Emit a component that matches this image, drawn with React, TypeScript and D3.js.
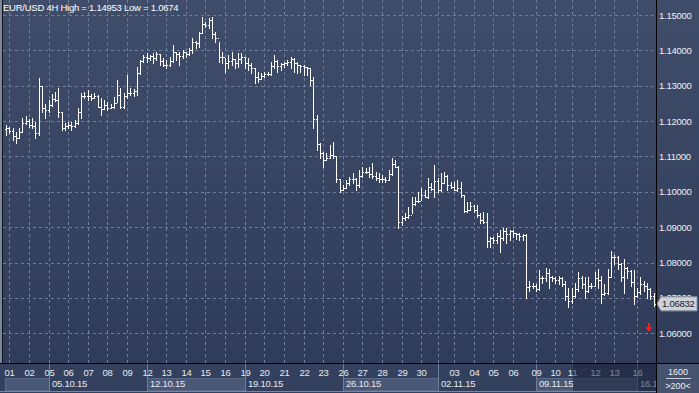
import React from 'react';
import * as d3 from 'd3';

const opens = [1.1178,1.1180,1.1172,1.1158,1.1152,1.1170,1.1195,1.1200,1.1190,1.1185,1.1165,1.1300,1.1238,1.1230,1.1245,1.1262,1.1260,1.1225,1.1180,1.1185,1.1190,1.1185,1.1195,1.1225,1.1272,1.1272,1.1270,1.1265,1.1270,1.1240,1.1235,1.1245,1.1238,1.1240,1.1250,1.1275,1.1240,1.1270,1.1280,1.1280,1.1285,1.1335,1.1370,1.1382,1.1378,1.1385,1.1378,1.1390,1.1370,1.1360,1.1358,1.1370,1.1395,1.1390,1.1385,1.1395,1.1390,1.1402,1.1425,1.1420,1.1450,1.1475,1.1472,1.1485,1.1445,1.1435,1.1380,1.1380,1.1365,1.1370,1.1375,1.1365,1.1375,1.1380,1.1365,1.1360,1.1350,1.1325,1.1320,1.1328,1.1333,1.1332,1.1355,1.1370,1.1355,1.1362,1.1365,1.1368,1.1375,1.1365,1.1360,1.1355,1.1352,1.1350,1.1315,1.1205,1.1135,1.1110,1.1090,1.1095,1.1105,1.1100,1.1035,1.1005,1.1010,1.1025,1.1035,1.1035,1.1018,1.1045,1.1055,1.1055,1.1050,1.1045,1.1040,1.1035,1.1035,1.1033,1.1050,1.1080,1.1070,1.0915,1.0925,1.0930,1.0935,1.0965,1.0975,1.0975,1.0990,1.0985,1.1015,1.1008,1.1030,1.1005,1.1025,1.1045,1.1020,1.1015,1.1005,1.1010,1.0990,1.0945,1.0950,1.0960,1.0950,1.0935,1.0920,1.0915,1.0860,1.0870,1.0865,1.0875,1.0870,1.0890,1.0880,1.0888,1.0885,1.0880,1.0875,1.0878,1.0730,1.0735,1.0735,1.0725,1.0755,1.0755,1.0770,1.0760,1.0755,1.0750,1.0755,1.0740,1.0705,1.0690,1.0705,1.0725,1.0755,1.0740,1.0720,1.0735,1.0735,1.0755,1.0752,1.0710,1.0715,1.0760,1.0815,1.0815,1.0795,1.0760,1.0785,1.0775,1.0745,1.0705,1.0718,1.0740,1.0735,1.0725,1.0705];

const highs = [1.1188,1.1183,1.1180,1.1168,1.1180,1.1208,1.1214,1.1205,1.1208,1.1197,1.1322,1.1300,1.1248,1.1259,1.1276,1.1282,1.1293,1.1225,1.1194,1.1197,1.1197,1.1203,1.1237,1.1279,1.1282,1.1288,1.1276,1.1279,1.1273,1.1265,1.1259,1.1254,1.1248,1.1268,1.1316,1.1293,1.1279,1.1330,1.1293,1.1290,1.1353,1.1373,1.1387,1.1392,1.1387,1.1392,1.1395,1.1390,1.1378,1.1373,1.1381,1.1415,1.1395,1.1395,1.1401,1.1395,1.1407,1.1435,1.1427,1.1452,1.1494,1.1480,1.1492,1.14953,1.1452,1.1424,1.1395,1.1378,1.1387,1.1395,1.1377,1.1392,1.1392,1.1382,1.1378,1.1364,1.1350,1.1339,1.1336,1.1339,1.1339,1.1367,1.1387,1.1373,1.1364,1.1367,1.1373,1.1381,1.1378,1.1367,1.1358,1.1358,1.1353,1.1350,1.1324,1.1217,1.1137,1.1112,1.1109,1.1132,1.1140,1.1100,1.1035,1.1018,1.1033,1.1041,1.1052,1.1038,1.1061,1.1069,1.1066,1.1069,1.1081,1.1055,1.1052,1.1047,1.1041,1.1061,1.1095,1.1089,1.1072,1.0933,1.0939,1.0956,1.0985,1.0985,1.0999,1.1010,1.1004,1.1038,1.1024,1.1075,1.1038,1.1052,1.1055,1.1047,1.1027,1.1027,1.1033,1.1027,1.0992,1.0970,1.0970,1.0962,1.0962,1.0939,1.0942,1.0939,1.0871,1.0871,1.0885,1.0891,1.0897,1.0897,1.0891,1.0891,1.0885,1.0885,1.0882,1.0882,1.0749,1.0743,1.0740,1.0778,1.0763,1.0786,1.0783,1.0763,1.0758,1.0763,1.0758,1.0749,1.0729,1.0727,1.0743,1.0772,1.0763,1.0758,1.0758,1.0743,1.0772,1.0783,1.0763,1.0740,1.0783,1.0834,1.0820,1.0818,1.0800,1.0811,1.0788,1.0778,1.0778,1.0729,1.0758,1.0749,1.0743,1.0729,1.0713];

const lows = [1.1160,1.1166,1.1146,1.1137,1.1152,1.1168,1.1191,1.1183,1.1180,1.1152,1.1160,1.1225,1.1208,1.1225,1.1242,1.1256,1.1211,1.1174,1.1174,1.1180,1.1174,1.1183,1.1193,1.1208,1.1265,1.1259,1.1259,1.1265,1.1239,1.1217,1.1233,1.1231,1.1237,1.1238,1.1254,1.1237,1.1238,1.1265,1.1273,1.1270,1.1273,1.1333,1.1367,1.1367,1.1373,1.1364,1.1373,1.1358,1.1356,1.1350,1.1355,1.1367,1.1373,1.1358,1.1378,1.1381,1.1387,1.1392,1.1407,1.1409,1.1448,1.1466,1.1463,1.1435,1.1424,1.1367,1.1364,1.1339,1.1350,1.1358,1.1350,1.1353,1.1364,1.1350,1.1344,1.1336,1.1307,1.1310,1.1318,1.1325,1.1330,1.1330,1.1350,1.1339,1.1344,1.1353,1.1358,1.1350,1.1339,1.1336,1.1339,1.1330,1.1330,1.1302,1.1180,1.1118,1.1095,1.1069,1.1089,1.1095,1.1095,1.1027,1.0999,1.1004,1.1010,1.1018,1.1024,1.1004,1.1015,1.1043,1.1052,1.1041,1.1038,1.1033,1.1027,1.1027,1.1027,1.1033,1.1048,1.1069,1.0897,1.0905,1.0919,1.0925,1.0939,1.0962,1.0970,1.0976,1.0985,1.0982,1.1004,1.0985,1.0999,1.1002,1.1024,1.1004,1.1010,1.1004,1.1003,1.0985,1.0942,1.0943,1.0948,1.0942,1.0928,1.0913,1.0911,1.0843,1.0843,1.0854,1.0854,1.0829,1.0863,1.0854,1.0863,1.0871,1.0868,1.0863,1.0863,1.0701,1.0721,1.0729,1.0721,1.0722,1.0743,1.0749,1.0727,1.0749,1.0743,1.0740,1.0735,1.0693,1.0674,1.0687,1.0702,1.0721,1.0727,1.0701,1.0718,1.0727,1.0735,1.0729,1.0687,1.0708,1.0712,1.0758,1.0797,1.0783,1.0749,1.0715,1.0755,1.0735,1.0684,1.0703,1.0712,1.0721,1.0701,1.0698,1.0678];

const closes = [1.1180,1.1172,1.1158,1.1152,1.1170,1.1195,1.1200,1.1190,1.1185,1.1165,1.1300,1.1238,1.1230,1.1245,1.1262,1.1260,1.1225,1.1180,1.1185,1.1190,1.1185,1.1195,1.1225,1.1272,1.1272,1.1270,1.1265,1.1270,1.1240,1.1235,1.1245,1.1238,1.1240,1.1250,1.1275,1.1240,1.1270,1.1280,1.1280,1.1285,1.1335,1.1370,1.1382,1.1378,1.1385,1.1378,1.1390,1.1370,1.1360,1.1358,1.1370,1.1395,1.1390,1.1385,1.1395,1.1390,1.1402,1.1425,1.1420,1.1450,1.1475,1.1472,1.1485,1.1445,1.1435,1.1380,1.1380,1.1365,1.1370,1.1375,1.1365,1.1375,1.1380,1.1365,1.1360,1.1350,1.1325,1.1320,1.1328,1.1333,1.1332,1.1355,1.1370,1.1355,1.1362,1.1365,1.1368,1.1375,1.1365,1.1360,1.1355,1.1352,1.1350,1.1315,1.1205,1.1135,1.1110,1.1090,1.1095,1.1105,1.1100,1.1035,1.1005,1.1010,1.1025,1.1035,1.1035,1.1018,1.1045,1.1055,1.1055,1.1050,1.1045,1.1040,1.1035,1.1035,1.1033,1.1050,1.1080,1.1070,1.0915,1.0925,1.0930,1.0935,1.0965,1.0975,1.0975,1.0990,1.0985,1.1015,1.1008,1.1030,1.1005,1.1025,1.1045,1.1020,1.1015,1.1005,1.1010,1.0990,1.0945,1.0950,1.0960,1.0950,1.0935,1.0920,1.0915,1.0860,1.0870,1.0865,1.0875,1.0870,1.0890,1.0880,1.0888,1.0885,1.0880,1.0875,1.0878,1.0730,1.0735,1.0735,1.0725,1.0755,1.0755,1.0770,1.0760,1.0755,1.0750,1.0755,1.0740,1.0705,1.0690,1.0705,1.0725,1.0755,1.0740,1.0720,1.0735,1.0735,1.0755,1.0752,1.0710,1.0715,1.0760,1.0815,1.0815,1.0795,1.0760,1.0785,1.0775,1.0745,1.0705,1.0718,1.0740,1.0735,1.0725,1.0705,1.06832];

const priceTicks = [1.06, 1.07, 1.08, 1.09, 1.10, 1.11, 1.12, 1.13, 1.14, 1.15];
const dayLabels = ["01","02","05","06","07","08","09","12","13","14","15","16","19","20","21","22","23","26","27","28","29","30","03","04","05","06","09","10","11","12","13","16"];
const dayBars = [1,7,13,19,25,31,37,43,49,55,61,67,73,79,85,91,97,103,109,115,121,127,137,143,149,155,162,168,173,180,186,193];
const weekLabels = ["05.10.15","12.10.15","19.10.15","26.10.15","02.11.15","09.11.15","16.11.15"];
const weekBars = [13,43,73,103,132,162,193];
const title = "EUR/USD 4H High = 1.14953 Low = 1.0674";
const lastPrice = "1.06832";
const cornerTop = "1600";
const cornerBottom = ">200<";

const W = 699, H = 393;
const PR = 656;      // plot right edge
const AX = 364;      // bottom axis top
const FONT = "'Liberation Sans', Arial, sans-serif";
const FS = 9.5;
const LS = -0.25;

export default function App() {
  const x = d3.scaleLinear().domain([0, closes.length - 1]).range([6, 653.5]);
  const y = d3.scaleLinear().domain([1.06, 1.15]).range([333.3, 15]);
  const fmt = d3.format(".5f");
  const px = (i: number) => Math.round(x(i));
  const py = (v: number) => Math.round(y(v));

  const boxStarts = [5, ...weekBars.map(b => px(b))];
  const boxEnds = [...weekBars.map(b => px(b)), PR];

  const lastY = y(closes[closes.length - 1]);

  return (
    <svg width={W} height={H} style={{ position: 'absolute', left: 0, top: 0 }} fontFamily={FONT}>
      <defs>
        <linearGradient id="bg" x1="0" y1="0" x2="0" y2="1">
          <stop offset="0" stopColor="#404d6a" />
          <stop offset="1" stopColor="#2e3a57" />
        </linearGradient>
        <clipPath id="axclip"><rect x={0} y={AX} width={PR} height={H - AX} /></clipPath>
      </defs>
      <rect x={0} y={0} width={W} height={H} fill="url(#bg)" />
      {/* left border */}
      <rect x={0} y={0} width={2} height={AX} fill="#7d879b" />
      <line x1={2.5} x2={2.5} y1={0} y2={AX} stroke="#10141c" />

      {/* grid */}
      {priceTicks.map(t => (
        <line key={'h' + t} x1={3} x2={PR} y1={py(t) + 0.5} y2={py(t) + 0.5}
          stroke="#6e7e9d" strokeDasharray="3,3" />
      ))}
      {[...dayBars, 132].map(b => (
        <line key={'v' + b} x1={px(b) + 0.5} x2={px(b) + 0.5} y1={0} y2={AX}
          stroke="#6e7e9d" strokeDasharray="3,3" />
      ))}

      {/* bars */}
      <g fill="#ffffff">
        {closes.map((c, i) => {
          const xi = px(i);
          const yh = py(highs[i]);
          const yl = py(lows[i]);
          return (
            <g key={i}>
              <rect x={xi} y={yh} width={1} height={Math.max(1, yl - yh + 1)} />
              <rect x={xi - 1} y={py(opens[i])} width={1} height={1} />
              <rect x={xi + 1} y={py(c)} width={1} height={1} />
            </g>
          );
        })}
      </g>

      {/* title */}
      <text x={3} y={11} fill="#ffffff" fontSize={FS} letterSpacing={LS}>{title}</text>

      {/* bottom axis band */}
      <rect x={0} y={AX} width={W} height={H - AX} fill="#34415e" />
      {boxStarts.map((s, k) => k % 2 === 0 ? (
        <rect key={'b' + k} x={s + 0.5} y={378.5} width={boxEnds[k] - s} height={12}
          fill="#4a5877" stroke="#5b6986" />
      ) : null)}
      {weekBars.map(b => (
        <line key={'s' + b} x1={px(b) + 0.5} x2={px(b) + 0.5} y1={AX} y2={391}
          stroke="#6f7e9b" />
      ))}
      <g clipPath="url(#axclip)">
        {dayLabels.map((d, k) => (
          <text key={'d' + k} x={px(dayBars[k]) + 0.5} y={375.5} fill="#e6e9ef" fontSize={FS}
            letterSpacing={LS} textAnchor="middle">{d}</text>
        ))}
        {weekLabels.map((w, k) => (
          <text key={'w' + k} x={px(weekBars[k]) + 3} y={387} fill="#e6e9ef" fontSize={FS}
            letterSpacing={LS}>{w}</text>
        ))}
        <rect x={573} y={AX} width={PR - 573} height={27} fill="#161d33" opacity={0.5} />
      </g>
      <line x1={0} x2={W} y1={391.5} y2={391.5} stroke="#7a869c" />

      {/* right axis */}
      {priceTicks.map(t => (
        <text key={'p' + t} x={659} y={y(t) + 3.5} fill="#eef0f4" fontSize={FS}
          letterSpacing={LS}>{fmt(t)}</text>
      ))}
      <path d={`M657,${lastY} L661,${lastY - 7} L697,${lastY - 7} L697,${lastY + 7} L661,${lastY + 7} Z`}
        fill="#cdd1d8" stroke="#8d939e" />
      <text x={662} y={lastY + 3.5} fill="#1b1b1b" fontSize={FS} letterSpacing={LS}>{lastPrice}</text>

      {/* red arrow */}
      <path d="M648,323 L650,323 L650,327 L652.5,327 L649,332 L645.5,327 L648,327 Z" fill="#ff1a1a" />

      {/* corner panel */}
      <rect x={PR + 1} y={AX} width={W - PR - 1} height={H - AX} fill="#45536f" />
      <text x={678} y={374.5} fill="#eef0f4" fontSize={9} textAnchor="middle">{cornerTop}</text>
      <line x1={666} x2={691} y1={378.5} y2={378.5} stroke="#c9ced8" />
      <text x={678} y={388.5} fill="#eef0f4" fontSize={9} textAnchor="middle">{cornerBottom}</text>

      {/* frame lines */}
      <line x1={0} x2={W} y1={AX - 0.5} y2={AX - 0.5} stroke="#000000" />
      <line x1={PR + 0.5} x2={PR + 0.5} y1={0} y2={H} stroke="#000000" />
    </svg>
  );
}
